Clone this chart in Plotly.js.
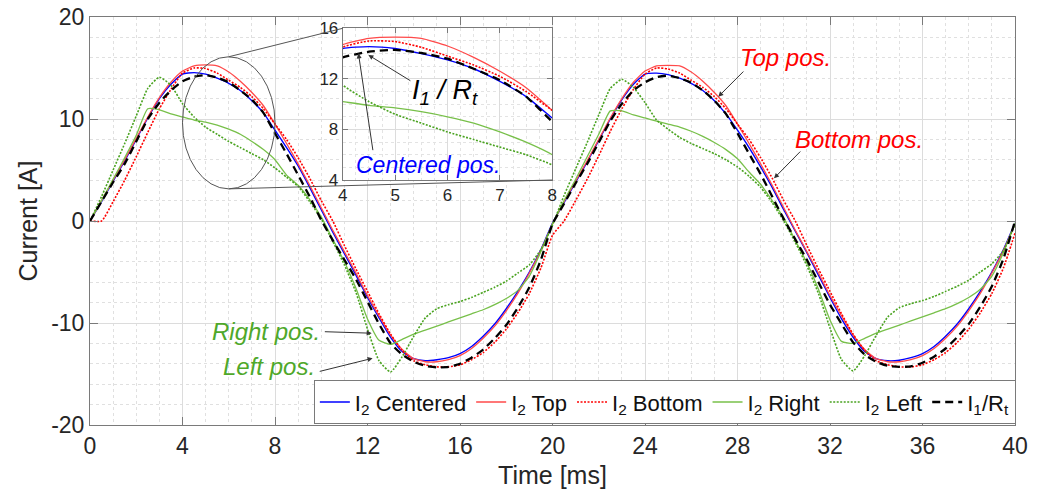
<!DOCTYPE html>
<html>
<head>
<meta charset="utf-8">
<script src="https://cdn.plot.ly/plotly-3.0.1.min.js"></script>
<style>html,body{margin:0;padding:0;background:#fff;}#chart{width:1043px;height:499px;}</style>
</head>
<body>
<div id="chart"></div>
<script>
// ---------- data ----------
var timeMs = [0,0.5,1,1.5,2,2.5,3,3.5,4,4.5,5,5.5,6,6.5,7,7.5,8,8.5,9,9.5,
  10,10.5,11,11.5,12,12.5,13,13.5,14,14.5,15,15.5,16,16.5,17,17.5,18,18.5,19,19.5,
  20,20.5,21,21.5,22,22.5,23,23.5,24,24.5,25,25.5,26,26.5,27,27.5,28,28.5,29,29.5,
  30,30.5,31,31.5,32,32.5,33,33.5,34,34.5,35,35.5,36,36.5,37,37.5,38,38.5,39,39.5,40];

var i2Centered = [0,1.9,3.9,5.9,8.0,10.1,12.0,13.4,14.4,14.55,14.4,14.0,13.5,12.8,11.8,10.6,8.9,7.2,5.4,3.3,
  1.1,-1.1,-3.2,-5.3,-7.5,-9.5,-11.4,-12.8,-13.5,-13.7,-13.6,-13.4,-13.0,-12.3,-11.3,-10.1,-8.6,-6.9,-5.0,-2.8,
  -0.2,1.8,3.8,5.8,7.9,10.0,11.9,13.4,14.4,14.5,14.35,14.0,13.5,12.8,11.8,10.5,8.9,7.2,5.3,3.3,
  1.1,-1.0,-3.1,-5.3,-7.5,-9.6,-11.4,-12.8,-13.5,-13.7,-13.65,-13.4,-13.0,-12.3,-11.3,-10.1,-8.6,-6.9,-5.0,-2.8,-0.2];

var i2Top = [0,2.0,4.0,6.0,8.1,10.2,12.1,13.6,14.7,15.2,15.3,15.2,14.6,13.7,12.6,11.3,9.5,7.6,5.6,3.5,
  1.3,-0.9,-3.0,-5.1,-7.3,-9.3,-11.2,-12.6,-13.5,-13.8,-13.8,-13.6,-13.2,-12.5,-11.5,-10.3,-8.8,-7.1,-5.1,-2.9,
  -0.3,1.9,3.9,5.9,8.0,10.1,12.0,13.6,14.7,15.2,15.25,15.2,14.6,13.7,12.6,11.3,9.5,7.6,5.6,3.5,
  1.3,-0.9,-3.0,-5.1,-7.3,-9.3,-11.2,-12.6,-13.5,-13.8,-13.8,-13.6,-13.2,-12.5,-11.5,-10.3,-8.8,-7.1,-5.1,-2.9,-0.3];

var i2Bottom = [0,0,1.9,4.0,6.3,8.7,11.0,12.9,14.5,15.0,14.95,14.5,13.8,13.1,12.2,11.0,9.5,8.0,6.2,4.2,
  2.0,0.0,-2.4,-4.7,-6.9,-9.1,-11.1,-12.7,-13.7,-14.1,-14.3,-14.3,-14.1,-13.6,-12.9,-11.9,-10.6,-9.0,-7.1,-4.6,
  -1.4,0.0,2.0,4.1,6.4,8.8,11.0,12.9,14.4,15.0,14.9,14.5,13.8,13.1,12.2,11.0,9.5,8.0,6.2,4.2,
  2.0,0.0,-2.4,-4.7,-6.9,-9.1,-11.1,-12.7,-13.7,-14.1,-14.3,-14.3,-14.1,-13.6,-12.9,-11.9,-10.6,-9.0,-7.1,-4.6,-1.2];

var i2Right = [0,2.0,4.1,6.2,8.4,11.0,10.9,10.5,10.2,9.9,9.7,9.4,9.0,8.5,7.8,7.0,6.0,4.5,3.5,2.1,
  0.4,-1.8,-4.0,-6.6,-9.6,-11.7,-12.1,-11.6,-11.1,-10.7,-10.3,-9.9,-9.5,-9.1,-8.7,-8.2,-7.6,-6.8,-5.4,-3.0,
  -0.3,2.0,4.1,6.3,8.5,10.8,10.8,10.4,10.1,9.8,9.5,9.2,8.8,8.3,7.7,7.0,6.1,4.8,3.6,2.0,
  0.3,-1.9,-4.1,-6.7,-9.7,-11.8,-12.0,-11.5,-11.0,-10.6,-10.2,-9.8,-9.4,-9.0,-8.6,-8.1,-7.5,-6.7,-5.4,-3.1,-0.2];

var i2Left = [0,2.4,5.0,7.6,10.3,13.0,14.1,13.3,11.5,10.2,9.2,8.5,7.8,7.2,6.6,6.0,5.2,4.3,3.4,1.9,
  0.2,-2.0,-4.3,-7.0,-10.6,-13.7,-14.8,-13.3,-11.3,-9.5,-8.6,-8.2,-7.9,-7.5,-7.0,-6.5,-5.9,-5.1,-4.3,-2.8,
  -0.4,2.5,5.1,7.7,10.4,13.0,13.9,13.1,11.6,9.9,9.0,8.2,7.6,7.1,6.6,6.0,5.3,4.4,3.3,1.8,
  0.0,-2.1,-4.4,-7.1,-10.5,-13.6,-14.7,-13.2,-11.2,-9.4,-8.5,-8.1,-7.8,-7.4,-6.9,-6.4,-5.8,-5.0,-4.2,-2.9,-0.3];

var i1OverRt = [0,1.9,3.8,5.6,7.8,10.0,11.6,12.8,13.7,14.15,14.3,14.05,13.6,12.8,11.9,10.6,8.6,6.6,4.5,2.4,
  0.1,-1.9,-3.8,-5.7,-7.9,-10.1,-12.0,-13.1,-13.8,-14.2,-14.35,-14.3,-14.0,-13.4,-12.6,-11.5,-10.2,-8.5,-6.5,-3.8,
  -0.3,1.7,3.7,5.6,7.7,9.8,11.5,12.8,13.6,14.1,14.25,14.0,13.55,12.8,11.8,10.5,8.6,6.6,4.6,2.4,
  0.2,-1.8,-3.8,-6.0,-8.2,-10.1,-11.9,-13.1,-13.8,-14.2,-14.3,-14.25,-13.9,-13.3,-12.5,-11.4,-10.1,-8.4,-6.4,-3.7,0];

var seriesNames = ['I<sub>2</sub> Centered','I<sub>2</sub> Top','I<sub>2</sub> Bottom','I<sub>2</sub> Right','I<sub>2</sub> Left','I<sub>1</sub>/R<sub>t</sub>'];
var xTickVals = [0,4,8,12,16,20,24,28,32,36,40];
var yTickVals = [-20,-10,0,10,20];
var yTickText = ['-20','-10','0','10','20'];
var insetXTicks = [4,5,6,7,8];
var insetYTicks = [4,8,12,16];

// ---------- styles ----------
var FONT = 'Liberation Sans, Arial, Helvetica, sans-serif';
var seriesData = [i2Centered, i2Top, i2Bottom, i2Right, i2Left, i1OverRt];
var seriesStyle = [
  {color:'#0000ff', width:1.4, dash:'solid'},
  {color:'#ff4a4a', width:1.3, dash:'solid'},
  {color:'#ff0000', width:1.6, dash:'2px,1.5px'},
  {color:'#78c04a', width:1.3, dash:'solid'},
  {color:'#4aa320', width:1.6, dash:'2px,1.5px'},
  {color:'#000000', width:2.3, dash:'8px,5px'}
];

var traces = [];
for (var k = 0; k < seriesData.length; k++) {
  traces.push({
    x: timeMs, y: seriesData[k], name: seriesNames[k], type: 'scatter', mode: 'lines',
    line: {color: seriesStyle[k].color, width: seriesStyle[k].width, dash: seriesStyle[k].dash, shape: 'spline', smoothing: 0.5},
    hoverinfo: 'skip', xaxis: 'x', yaxis: 'y'
  });
}
for (var k2 = 0; k2 < seriesData.length; k2++) {
  traces.push({
    x: timeMs, y: seriesData[k2], name: seriesNames[k2], type: 'scatter', mode: 'lines', showlegend: false,
    line: {color: seriesStyle[k2].color, width: seriesStyle[k2].width, dash: seriesStyle[k2].dash, shape: 'spline', smoothing: 0.5},
    hoverinfo: 'skip', xaxis: 'x2', yaxis: 'y2'
  });
}

var axisLine = '#7a7a7a';
var insetX = [0.2732, 0.4998];
var insetY = [0.6005, 0.9723];

var layout = {
  width: 1043, height: 499,
  margin: {l: 90, r: 28, t: 17, b: 74, pad: 0},
  paper_bgcolor: '#ffffff', plot_bgcolor: '#ffffff',
  font: {family: FONT, color: '#262626'},
  showlegend: true,
  xaxis: {
    domain: [0, 1], range: [0, 40], tickmode: 'array', tickvals: xTickVals,
    ticks: 'inside', ticklen: 8, tickcolor: axisLine, showline: true, linecolor: axisLine, linewidth: 1, mirror: 'ticks',
    showgrid: true, gridcolor: '#dcdcdc', gridwidth: 1, zeroline: false,
    minor: {dtick: 1, tick0: 0, showgrid: true, gridcolor: '#e0e0e0', griddash: 'dot', ticks: ''},
    tickfont: {size: 23, color: '#262626', family: FONT},
    title: {text: 'Time [ms]', font: {size: 25, color: '#262626', family: FONT}, standoff: 8}
  },
  yaxis: {
    domain: [0, 1], range: [-20, 20], tickmode: 'array', tickvals: yTickVals, ticktext: yTickText,
    ticks: 'inside', ticklen: 8, tickcolor: axisLine, showline: true, linecolor: axisLine, linewidth: 1, mirror: 'ticks',
    showgrid: true, gridcolor: '#dcdcdc', gridwidth: 1, zeroline: false,
    minor: {dtick: 2, tick0: 0, showgrid: true, gridcolor: '#e0e0e0', griddash: 'dot', ticks: ''},
    tickfont: {size: 23, color: '#262626', family: FONT},
    title: {text: 'Current [A]', font: {size: 25, color: '#262626', family: FONT}, standoff: 6}
  },
  xaxis2: {
    domain: insetX, anchor: 'y2', range: [4, 8], tickmode: 'array', tickvals: insetXTicks,
    ticks: 'inside', ticklen: 5, tickcolor: axisLine, showline: true, linecolor: axisLine, linewidth: 1, mirror: 'ticks',
    showgrid: true, gridcolor: '#dcdcdc', zeroline: false,
    minor: {dtick: 0.25, tick0: 4, showgrid: true, gridcolor: '#e3e3e3', griddash: 'dot', ticks: ''},
    tickfont: {size: 17, color: '#262626', family: FONT}
  },
  yaxis2: {
    domain: insetY, anchor: 'x2', range: [4, 16], tickmode: 'array', tickvals: insetYTicks,
    ticks: 'inside', ticklen: 5, tickcolor: axisLine, showline: true, linecolor: axisLine, linewidth: 1, mirror: 'ticks',
    showgrid: true, gridcolor: '#dcdcdc', zeroline: false,
    minor: {dtick: 1, tick0: 4, showgrid: true, gridcolor: '#e3e3e3', griddash: 'dot', ticks: ''},
    tickfont: {size: 17, color: '#262626', family: FONT}
  },
  legend: {
    orientation: 'h', x: 0.242, xanchor: 'left', y: 0.002, yanchor: 'bottom',
    bgcolor: '#ffffff', bordercolor: axisLine, borderwidth: 1,
    font: {size: 22, color: '#111', family: FONT}, itemwidth: 30, tracegroupgap: 0,
    traceorder: 'normal'
  },
  shapes: [
    {type: 'circle', xref: 'x', yref: 'y', x0: 4, x1: 8, y0: 3.15, y1: 16.1, line: {color: '#555', width: 1}},
    {type: 'line', xref: 'paper', yref: 'paper', x0: 6 / 40, y0: (16.1 + 20) / 40, x1: insetX[0], y1: insetY[1], line: {color: '#555', width: 1}},
    {type: 'line', xref: 'paper', yref: 'paper', x0: 6 / 40, y0: (3.15 + 20) / 40, x1: insetX[1], y1: insetY[0], line: {color: '#555', width: 1}}
  ],
  annotations: [
    {xref: 'x', yref: 'y', x: 28.0, y: 16.0, xanchor: 'left', yanchor: 'middle', showarrow: false,
     text: '<i>Top pos.</i>', font: {size: 24, color: '#ff0000', family: FONT}},
    {xref: 'x', yref: 'y', x: 27.17, y: 12.19, axref: 'x', ayref: 'y', ax: 28.32, ay: 14.8, text: '', showarrow: true,
     arrowhead: 2, arrowsize: 1, arrowwidth: 1, arrowcolor: '#333'},
    {xref: 'x', yref: 'y', x: 30.4, y: 8.0, xanchor: 'left', yanchor: 'middle', showarrow: false,
     text: '<i>Bottom pos.</i>', font: {size: 24, color: '#ff0000', family: FONT}},
    {xref: 'x', yref: 'y', x: 29.58, y: 4.19, axref: 'x', ayref: 'y', ax: 30.78, ay: 6.96, text: '', showarrow: true,
     arrowhead: 2, arrowsize: 1, arrowwidth: 1, arrowcolor: '#333'},
    {xref: 'x', yref: 'y', x: 10.05, y: -10.8, xanchor: 'right', yanchor: 'middle', showarrow: false,
     text: '<i>Right pos.</i>', font: {size: 24, color: '#4fa82a', family: FONT}},
    {xref: 'x', yref: 'y', x: 12.18, y: -11.0, axref: 'x', ayref: 'y', ax: 10.09, ay: -10.85, text: '', showarrow: true,
     arrowhead: 2, arrowsize: 1, arrowwidth: 1, arrowcolor: '#333'},
    {xref: 'x', yref: 'y', x: 9.8, y: -14.3, xanchor: 'right', yanchor: 'middle', showarrow: false,
     text: '<i>Left pos.</i>', font: {size: 24, color: '#4fa82a', family: FONT}},
    {xref: 'x', yref: 'y', x: 12.22, y: -13.46, axref: 'x', ayref: 'y', ax: 9.87, ay: -14.78, text: '', showarrow: true,
     arrowhead: 2, arrowsize: 1, arrowwidth: 1, arrowcolor: '#333'},
    {xref: 'x2', yref: 'y2', x: 5.95, y: 11.0, xanchor: 'center', yanchor: 'middle', showarrow: false,
     text: '<i>I<sub>1</sub> / R<sub>t</sub></i>', font: {size: 27, color: '#000', family: FONT}},
    {xref: 'x2', yref: 'y2', x: 4.49, y: 13.89, axref: 'x2', ayref: 'y2', ax: 5.32, ay: 11.78, text: '', showarrow: true,
     arrowhead: 2, arrowsize: 1, arrowwidth: 1, arrowcolor: '#333'},
    {xref: 'x2', yref: 'y2', x: 5.63, y: 5.2, xanchor: 'center', yanchor: 'middle', showarrow: false,
     text: '<i>Centered pos.</i>', font: {size: 23, color: '#0000ff', family: FONT}},
    {xref: 'x2', yref: 'y2', x: 4.30, y: 14.02, axref: 'x2', ayref: 'y2', ax: 4.58, ay: 6.24, text: '', showarrow: true,
     arrowhead: 2, arrowsize: 1, arrowwidth: 1, arrowcolor: '#333'}
  ]
};

Plotly.newPlot('chart', traces, layout, {staticPlot: true, displayModeBar: false});
</script>
</body>
</html>
